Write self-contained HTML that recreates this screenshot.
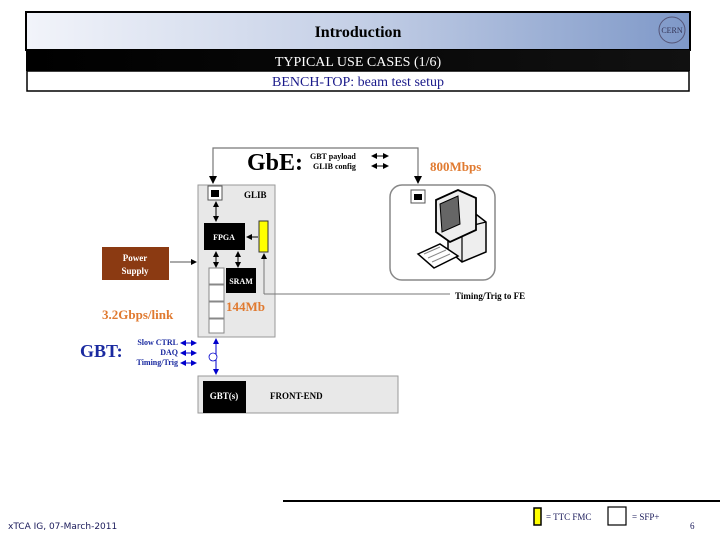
<!DOCTYPE html>
<html><head><meta charset="utf-8"><style>
body{margin:0;width:720px;height:540px;background:#fff;overflow:hidden;font-family:"Liberation Serif",serif}
</style></head><body>
<svg width="720" height="540" xmlns="http://www.w3.org/2000/svg" font-family="Liberation Serif, serif">
<defs>
<linearGradient id="g" x1="0" x2="1"><stop offset="0" stop-color="#f2f4fa"/><stop offset="0.5" stop-color="#c4cfe6"/><stop offset="1" stop-color="#7e98c8"/></linearGradient>
<linearGradient id="k" x1="0" x2="1"><stop offset="0" stop-color="#000"/><stop offset="1" stop-color="#111"/></linearGradient>
<marker id="a" markerWidth="6" markerHeight="6" refX="5" refY="3" orient="auto"><path d="M0,0L6,3L0,6z" fill="#000"/></marker>
<marker id="as" markerWidth="6" markerHeight="6" refX="1" refY="3" orient="auto"><path d="M6,0L0,3L6,6z" fill="#000"/></marker>
<marker id="b" markerWidth="6" markerHeight="6" refX="5" refY="3" orient="auto"><path d="M0,0L6,3L0,6z" fill="#00c"/></marker>
<marker id="bs" markerWidth="6" markerHeight="6" refX="1" refY="3" orient="auto"><path d="M6,0L0,3L6,6z" fill="#00c"/></marker>
</defs>
<rect x="26" y="12" width="664" height="38" fill="url(#g)" stroke="#000" stroke-width="2"/>
<text x="358" y="37" text-anchor="middle" font-size="16" font-weight="bold">Introduction</text>
<circle cx="672" cy="30" r="13" fill="none" stroke="#557" stroke-width="1"/>
<text x="672" y="33" text-anchor="middle" font-size="8" fill="#335">CERN</text>
<rect x="26" y="50" width="664" height="21" fill="url(#k)"/>
<text x="358" y="66" text-anchor="middle" font-size="14" fill="#fff">TYPICAL USE CASES (1/6)</text>
<rect x="27" y="71" width="662" height="20" fill="#fff" stroke="#000" stroke-width="1.5"/>
<text x="358" y="86" text-anchor="middle" font-size="14" fill="#1a1a8a">BENCH-TOP: beam test setup</text>

<polyline points="213,183 213,148 418,148 418,183" fill="none" stroke="#777" stroke-width="1.2"/>
<path d="M209,176 L213,184 L217,176z" fill="#000"/><path d="M414,176 L418,184 L422,176z" fill="#000"/>
<text x="247" y="170" font-size="24" font-weight="bold">GbE:</text>
<text x="310" y="159" font-size="8" font-weight="bold">GBT payload</text>
<text x="313" y="169" font-size="8" font-weight="bold">GLIB config</text>
<line x1="372" y1="156" x2="388" y2="156" stroke="#000" marker-end="url(#a)" marker-start="url(#as)"/>
<line x1="372" y1="166" x2="388" y2="166" stroke="#000" marker-end="url(#a)" marker-start="url(#as)"/>
<text x="430" y="171" font-size="13" font-weight="bold" fill="#e07a30">800Mbps</text>

<rect x="198" y="185" width="77" height="152" fill="#e8e8e8" stroke="#999"/>
<rect x="208" y="186" width="14" height="14" fill="#fff" stroke="#555"/>
<rect x="211" y="190" width="8" height="7" fill="#000"/>
<text x="244" y="198" font-size="9" font-weight="bold">GLIB</text>
<line x1="216" y1="202" x2="216" y2="221" stroke="#000" marker-end="url(#a)" marker-start="url(#as)"/>
<rect x="204" y="223" width="41" height="27" fill="#000"/>
<text x="224" y="240" text-anchor="middle" font-size="8" font-weight="bold" fill="#fff">FPGA</text>
<rect x="259" y="221" width="9" height="31" fill="#ff0" stroke="#333"/>
<line x1="258" y1="237" x2="247" y2="237" stroke="#000" marker-end="url(#a)"/>
<line x1="216" y1="252" x2="216" y2="267" stroke="#000" marker-end="url(#a)" marker-start="url(#as)"/>
<line x1="238" y1="252" x2="238" y2="267" stroke="#000" marker-end="url(#a)" marker-start="url(#as)"/>
<rect x="226" y="268" width="30" height="25" fill="#000"/>
<text x="241" y="284" text-anchor="middle" font-size="8" font-weight="bold" fill="#fff">SRAM</text>
<rect x="209" y="268" width="15" height="16" fill="#fff" stroke="#888"/>
<rect x="209" y="285" width="15" height="16" fill="#fff" stroke="#888"/>
<rect x="209" y="302" width="15" height="16" fill="#fff" stroke="#888"/>
<rect x="209" y="319" width="15" height="14" fill="#fff" stroke="#888"/>
<text x="226" y="311" font-size="13" font-weight="bold" fill="#e07a30">144Mb</text>
<text x="102" y="319" font-size="13" font-weight="bold" fill="#e07a30">3.2Gbps/link</text>
<line x1="264" y1="254" x2="264" y2="294" stroke="#777" marker-start="url(#as)"/>
<polyline points="264,294 450,294" fill="none" stroke="#777"/>
<text x="455" y="299" font-size="9" font-weight="bold">Timing/Trig to FE</text>

<rect x="102" y="247" width="67" height="33" fill="#8b3a12"/>
<text x="135" y="261" text-anchor="middle" font-size="9" font-weight="bold" fill="#fff">Power</text>
<text x="135" y="274" text-anchor="middle" font-size="9" font-weight="bold" fill="#fff">Supply</text>
<line x1="170" y1="262" x2="196" y2="262" stroke="#555" marker-end="url(#a)"/>

<rect x="390" y="185" width="105" height="95" rx="12" fill="#fff" stroke="#888" stroke-width="1.5"/>
<rect x="411" y="190" width="14" height="13" fill="#fff" stroke="#555"/>
<rect x="414" y="194" width="8" height="6" fill="#000"/>
<!-- tower -->
<path d="M448,215 L468,208 L486,222 L486,252 L462,262 L448,250z" fill="#eee" stroke="#000" stroke-width="1.5"/>
<path d="M462,228 L486,222 M462,228 L462,262 M448,215 L462,228" stroke="#000" fill="none" stroke-width="1.2"/>
<!-- monitor -->
<path d="M436,200 L458,190 L476,198 L476,230 L450,242 L436,232z" fill="#eee" stroke="#000" stroke-width="1.8"/>
<path d="M440,204 L458,196 L460,224 L442,232z" fill="#666" stroke="#000"/>
<!-- keyboard -->
<path d="M418,254 L440,244 L458,256 L434,268z" fill="#fff" stroke="#000" stroke-width="1.5"/>
<path d="M424,254 L440,247 M428,258 L446,250 M432,262 L450,254" stroke="#888" stroke-width="1"/>

<line x1="216" y1="339" x2="216" y2="374" stroke="#00c" marker-end="url(#b)" marker-start="url(#bs)"/>
<circle cx="213" cy="357" r="4" fill="#fff" stroke="#00c" stroke-width="0.8"/>
<text x="80" y="357" font-size="18" font-weight="bold" fill="#1a2aa0">GBT:</text>
<text x="178" y="345" text-anchor="end" font-size="8" font-weight="bold" fill="#1a2aa0">Slow CTRL</text>
<text x="178" y="355" text-anchor="end" font-size="8" font-weight="bold" fill="#1a2aa0">DAQ</text>
<text x="178" y="365" text-anchor="end" font-size="8" font-weight="bold" fill="#1a2aa0">Timing/Trig</text>
<line x1="181" y1="343" x2="196" y2="343" stroke="#00c" marker-end="url(#b)" marker-start="url(#bs)"/>
<line x1="181" y1="353" x2="196" y2="353" stroke="#00c" marker-end="url(#b)" marker-start="url(#bs)"/>
<line x1="181" y1="363" x2="196" y2="363" stroke="#00c" marker-end="url(#b)" marker-start="url(#bs)"/>
<rect x="198" y="376" width="200" height="37" fill="#e8e8e8" stroke="#999"/>
<rect x="203" y="381" width="43" height="32" fill="#000"/>
<text x="224" y="399" text-anchor="middle" font-size="9" font-weight="bold" fill="#fff">GBT(s)</text>
<text x="270" y="399" font-size="9" font-weight="bold">FRONT-END</text>

<line x1="283" y1="501" x2="720" y2="501" stroke="#000" stroke-width="2"/>
<text x="8" y="529" font-size="9" font-family="DejaVu Sans, sans-serif" fill="#1a1a5a">xTCA IG, 07-March-2011</text>
<rect x="534" y="508" width="7" height="17" fill="#ff0" stroke="#000" stroke-width="1.5"/>
<text x="546" y="520" font-size="9" fill="#1a1a5a">= TTC FMC</text>
<rect x="608" y="507" width="18" height="18" fill="#fff" stroke="#000" stroke-width="1.2"/>
<text x="632" y="520" font-size="9" fill="#1a1a5a">= SFP+</text>
<text x="690" y="529" font-size="9" fill="#1a1a5a">6</text>
</svg>
</body></html>
